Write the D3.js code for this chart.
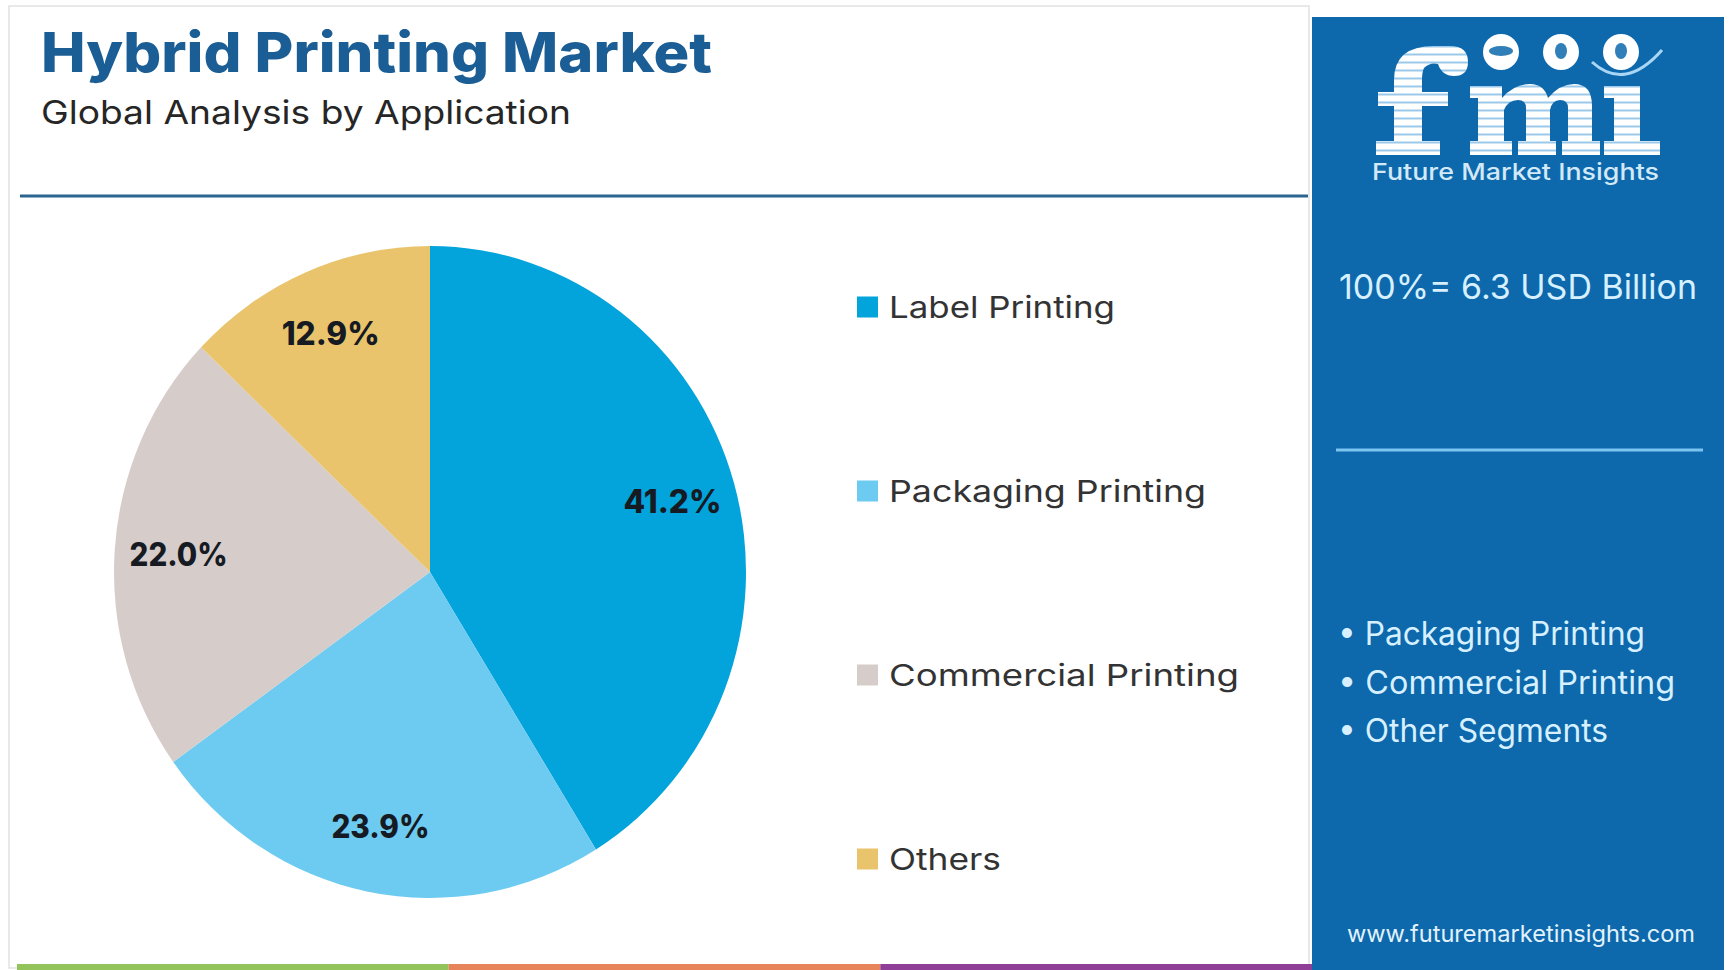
<!DOCTYPE html>
<html>
<head>
<meta charset="utf-8">
<script src="https://cdn.jsdelivr.net/npm/d3@7"></script>
<style>
  html, body { margin: 0; padding: 0; background: #ffffff; }
  svg { display: block; }
</style>
</head>
<body>
<svg id="chart" width="1731" height="970"></svg>
<script>
// ---------- data ----------
const categories = ["Label Printing", "Packaging Printing", "Commercial Printing", "Others"];
const shares = [41.2, 23.9, 22.0, 12.9];
const sliceColors = ["#03a3dc", "#6dcbf1", "#d6cdca", "#e9c46c"];
const shareLabels = ["41.2%", "23.9%", "22.0%", "12.9%"];
const titleText = "Hybrid Printing Market";
const subtitleText = "Global Analysis by Application";
const totalText = "100%= 6.3 USD Billion";
const segmentBullets = ["Packaging Printing", "Commercial Printing", "Other Segments"];
const brandName = "Future Market Insights";
const siteUrl = "www.futuremarketinsights.com";
const stripColors = ["#93c45c", "#e8845c", "#8f3f98"];

// ---------- setup ----------
const svg = d3.select("#chart");
const FONT = "Inter, 'Open Sans', Lato, sans-serif";
const PANEL_BLUE = "#0d68ac";

const defs = svg.append("defs");
const pat = defs.append("pattern").attr("id", "stripes")
  .attr("width", 12).attr("height", 8).attr("patternUnits", "userSpaceOnUse");
pat.append("rect").attr("width", 12).attr("height", 8).attr("fill", "#ffffff");
pat.append("rect").attr("y", 5.5).attr("width", 12).attr("height", 2).attr("fill", "#9cc9ea");

// card
svg.append("rect").attr("x", 9).attr("y", 6).attr("width", 1300).attr("height", 962)
  .attr("fill", "#fff").attr("stroke", "#e2e2e2").attr("stroke-width", 1.5);

// title
svg.append("text").attr("x", 41).attr("y", 72)
  .attr("font-family", FONT).attr("font-weight", 800).attr("font-size", 55)
  .attr("fill", "#1b5e95")
  .attr("textLength", 671).attr("lengthAdjust", "spacingAndGlyphs")
  .text(titleText);
svg.append("text").attr("x", 41).attr("y", 124)
  .attr("font-family", FONT).attr("font-weight", 400).attr("font-size", 33)
  .attr("fill", "#262626")
  .attr("textLength", 530).attr("lengthAdjust", "spacingAndGlyphs")
  .text(subtitleText);

// divider
svg.append("line").attr("x1", 20).attr("x2", 1308).attr("y1", 196).attr("y2", 196)
  .attr("stroke", "#2a6592").attr("stroke-width", 3);

// bottom strips
const stripScale = d3.scaleBand().domain(d3.range(stripColors.length)).range([17, 1312]);
svg.selectAll("rect.strip").data(stripColors).join("rect").attr("class", "strip")
  .attr("x", (d, i) => stripScale(i)).attr("y", 964)
  .attr("width", stripScale.bandwidth()).attr("height", 6).attr("fill", d => d);

// ---------- pie ----------
const cx = 430, cy = 572, rx = 316, ry = 326;
const k = ry / rx;
const pie = d3.pie().sort(null).value(d => d.value).startAngle(0).endAngle(2 * Math.PI);
const data = categories.map((c, i) => ({ name: c, value: shares[i], color: sliceColors[i], label: shareLabels[i] }));
const arcs = pie(data);
const arc = d3.arc().innerRadius(0).outerRadius(rx);
const labelArc = d3.arc().innerRadius(252).outerRadius(252);

const pieG = svg.append("g").attr("transform", `translate(${cx},${cy}) scale(1,${k})`);
pieG.selectAll("path").data(arcs).join("path")
  .attr("d", arc).attr("fill", d => d.data.color);

const labG = svg.append("g").attr("transform", `translate(${cx},${cy})`);
labG.selectAll("text").data(arcs).join("text")
  .attr("x", d => labelArc.centroid(d)[0])
  .attr("y", d => labelArc.centroid(d)[1] * k)
  .attr("dy", "0.36em")
  .attr("text-anchor", "middle")
  .attr("font-family", FONT).attr("font-weight", 800).attr("font-size", 32)
  .attr("fill", "#161a22")
  .attr("textLength", 98).attr("lengthAdjust", "spacingAndGlyphs")
  .text(d => d.data.label);

// ---------- legend ----------
const legendY = d3.scalePoint().domain(categories).range([307, 859]);
const legendWidths = d3.scaleOrdinal().domain(categories).range([226, 317, 350, 112]);
const items = svg.append("g").selectAll("g").data(data).join("g")
  .attr("transform", d => `translate(857,${legendY(d.name)})`);
items.append("rect").attr("x", 0).attr("y", -10.5).attr("width", 21).attr("height", 21)
  .attr("fill", d => d.color);
items.append("text").attr("x", 32).attr("dy", "0.36em")
  .attr("font-family", FONT).attr("font-size", 30).attr("fill", "#333")
  .attr("textLength", d => legendWidths(d.name)).attr("lengthAdjust", "spacingAndGlyphs")
  .text(d => d.name);

// ---------- right panel ----------
svg.append("rect").attr("x", 1312).attr("y", 17).attr("width", 412).attr("height", 953)
  .attr("fill", PANEL_BLUE);

// logo (striped slab letters drawn as shapes)
const logo = svg.append("g").attr("fill", "url(#stripes)");
// f
logo.append("path").attr("d",
  "M1394,146 L1394,106 L1378,106 L1378,92 L1394,92 L1394,80 Q1394,46 1434,46 L1450,46 " +
  "Q1468,46 1468,62 Q1468,76 1454,76 Q1442,76 1438,64 Q1430,62 1424,68 Q1422,72 1422,80 " +
  "L1422,92 L1448,92 L1448,106 L1422,106 L1422,141 L1440,141 L1440,155 L1376,155 L1376,141 L1394,141 Z");
// m
logo.append("path").attr("d",
  "M1470,86 L1502,86 L1502,98 Q1514,84 1530,84 Q1544,84 1548,98 Q1560,84 1574,84 " +
  "Q1592,84 1592,106 L1592,141 L1600,141 L1600,155 L1562,155 L1562,141 L1568,141 L1568,108 " +
  "Q1568,100 1560,100 Q1552,100 1550,110 L1550,141 L1556,141 L1556,155 L1518,155 L1518,141 " +
  "L1526,141 L1526,108 Q1526,100 1518,100 Q1508,100 1504,110 L1504,141 L1512,141 L1512,155 " +
  "L1470,155 L1470,141 L1478,141 L1478,98 L1470,98 Z");
// i (dotless)
logo.append("path").attr("d",
  "M1604,86 L1640,86 L1640,141 L1660,141 L1660,155 L1604,155 L1604,141 L1614,141 L1614,98 L1604,98 Z");

const globeX = d3.scalePoint().domain([0, 1, 2]).range([1501, 1621]);
svg.append("path")
  .attr("d", "M1592,62 Q1625,92 1662,50")
  .attr("fill", "none").attr("stroke", "#a8d6f4").attr("stroke-width", 3);
svg.selectAll("circle.globe").data([0, 1, 2]).join("circle").attr("class", "globe")
  .attr("cx", d => globeX(d)).attr("cy", 52).attr("r", 18).attr("fill", "#ffffff");
svg.selectAll("ellipse.land").data([0, 1, 2]).join("ellipse").attr("class", "land")
  .attr("cx", d => globeX(d)).attr("cy", 51).attr("rx", d => d === 0 ? 12 : 6).attr("ry", d => d === 0 ? 5 : 8)
  .attr("fill", PANEL_BLUE).attr("opacity", 0.85);

svg.append("text").attr("x", 1372).attr("y", 180)
  .attr("font-family", FONT).attr("font-weight", 500).attr("font-size", 23).attr("fill", "#d2e9f8")
  .attr("textLength", 287).attr("lengthAdjust", "spacingAndGlyphs")
  .text(brandName);

svg.append("text").attr("x", 1339).attr("y", 299)
  .attr("font-family", FONT).attr("font-size", 34).attr("fill", "#d6f0ff")
  .attr("textLength", 358).attr("lengthAdjust", "spacingAndGlyphs")
  .text(totalText);

svg.append("line").attr("x1", 1336).attr("x2", 1703).attr("y1", 450).attr("y2", 450)
  .attr("stroke", "#7cc4ef").attr("stroke-width", 3);

const bulletY = d3.scalePoint().domain(segmentBullets).range([645, 742]);
const bulletW = d3.scaleOrdinal().domain(segmentBullets).range([307, 337, 270]);
svg.selectAll("text.bullet").data(segmentBullets).join("text").attr("class", "bullet")
  .attr("x", 1338).attr("y", d => bulletY(d))
  .attr("font-family", FONT).attr("font-size", 32).attr("fill", "#d6f0ff")
  .attr("textLength", d => bulletW(d)).attr("lengthAdjust", "spacingAndGlyphs")
  .text(d => "\u2022 " + d);

svg.append("text").attr("x", 1347).attr("y", 942)
  .attr("font-family", FONT).attr("font-size", 23).attr("fill", "#e2f2fc")
  .attr("textLength", 348).attr("lengthAdjust", "spacingAndGlyphs")
  .text(siteUrl);
</script>
</body>
</html>
